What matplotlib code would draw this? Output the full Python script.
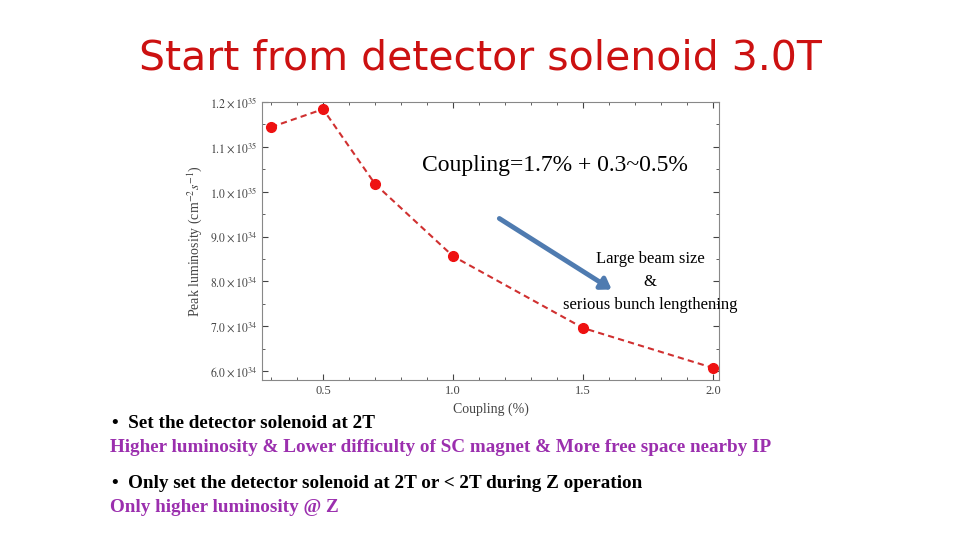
import matplotlib
matplotlib.use("Agg")
import matplotlib.pyplot as plt
from matplotlib.ticker import MultipleLocator

coupling = [0.3, 0.5, 0.7, 1.0, 1.5, 2.0]
lumi = [11.44e34, 11.84e34, 10.17e34, 8.56e34, 6.96e34, 6.07e34]
yticks = [6.0e34, 7.0e34, 8.0e34, 9.0e34, 1.0e35, 1.1e35, 1.2e35]
ylabels = [r"$6.0\times10^{34}$", r"$7.0\times10^{34}$", r"$8.0\times10^{34}$", r"$9.0\times10^{34}$",
           r"$1.0\times10^{35}$", r"$1.1\times10^{35}$", r"$1.2\times10^{35}$"]
xticks = [0.5, 1.0, 1.5, 2.0]

plt.rcParams['font.family'] = ['Liberation Serif', 'DejaVu Serif']
plt.rcParams['mathtext.fontset'] = 'stix'
fig = plt.figure(figsize=(9.6, 5.4), dpi=100)
ax = fig.add_axes([262/960, 1-380/540, (719-262)/960, (380-102)/540])
ax.plot(coupling, lumi, ls=(0, (3, 2)), color='#d03030', lw=1.5, marker='o', ms=7,
        mfc='#ee1111', mec='#ee1111')
ax.set_xlim(0.265, 2.023)
ax.set_ylim(5.8e34, 1.2e35)
ax.set_xticks(xticks)
ax.set_xticklabels(["0.5", "1.0", "1.5", "2.0"], fontsize=9, color='#444444')
ax.xaxis.set_minor_locator(MultipleLocator(0.1))
ax.set_yticks(yticks)
ax.set_yticklabels(ylabels, fontsize=8.5, color='#444444')
ax.yaxis.set_minor_locator(MultipleLocator(0.5e34))
ax.tick_params(which='both', direction='in', top=True, right=True, colors='#444444')
ax.tick_params(which='major', length=4)
ax.tick_params(which='minor', length=2)
for s in ax.spines.values():
    s.set_color('#888888')
ax.set_xlabel("Coupling (%)", fontsize=10, color='#444444')
ax.set_ylabel(r"Peak luminosity (cm$^{-2}s^{-1}$)", fontsize=10, color='#444444')

fig.text(0.5, 1-58/540, "Start from detector solenoid 3.0T", ha='center', va='center',
         fontsize=29.5, color='#cc1111', family='DejaVu Sans')
fig.text(555/960, 1-166/540, "Coupling=1.7% + 0.3~0.5%", ha='center', va='center', fontsize=17)
fig.text(650/960, 1-282/540, "Large beam size\n&\nserious bunch lengthening", ha='center',
         va='center', fontsize=12, linespacing=1.55)
fig.add_artist(matplotlib.patches.FancyArrowPatch((497/960, 1-217/540), (614/960, 1-291/540),
               transform=fig.transFigure, arrowstyle='-|>,head_length=6,head_width=4',
               color='#4f7bb0', lw=3.5))
fs = 13.8
fig.text(112/960, 1-423/540, "•  Set the detector solenoid at 2T", fontsize=fs, weight='bold', va='center')
fig.text(110/960, 1-447/540, "Higher luminosity & Lower difficulty of SC magnet & More free space nearby IP",
         fontsize=fs, weight='bold', color='#9b2fae', va='center')
fig.text(112/960, 1-483/540, "•  Only set the detector solenoid at 2T or < 2T during Z operation",
         fontsize=fs, weight='bold', va='center')
fig.text(110/960, 1-507/540, "Only higher luminosity @ Z", fontsize=fs, weight='bold',
         color='#9b2fae', va='center')
fig.savefig("out.png", dpi=100)
